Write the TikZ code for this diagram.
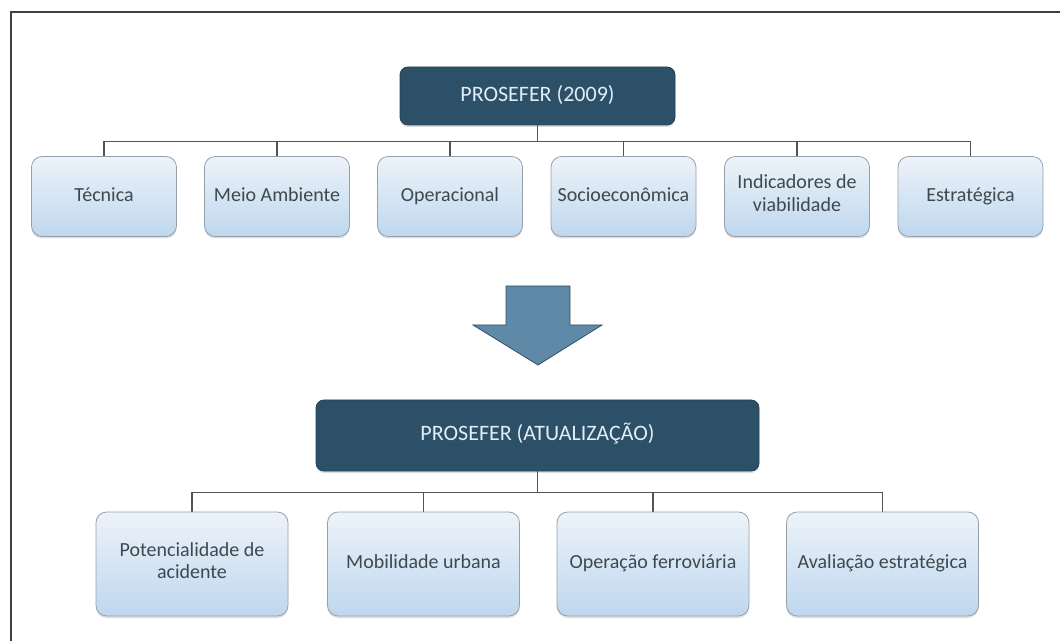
\documentclass[tikz,border=0pt]{standalone}
\usepackage{fontspec}
\setmainfont{Carlito}
\usepackage{tikz}
\usetikzlibrary{shadows}
\pgfdeclarelayer{bg}
\pgfsetlayers{bg,main}

\definecolor{rootfill}{HTML}{2D5069}
\definecolor{roottext}{HTML}{E2EDF5}
\definecolor{itemtop}{HTML}{EDF3F9}
\definecolor{itembot}{HTML}{BED7EE}
\definecolor{itemline}{HTML}{96A0AA}
\definecolor{itemtext}{HTML}{3F4851}
\definecolor{arrowfill}{HTML}{5E89A7}
\definecolor{linkgray}{HTML}{4F5459}

\begin{document}
\begin{tikzpicture}[x=0.75pt, y=-0.75pt,
    rootbox/.style={draw=rootfill!80!black, line width=0.6pt, fill=rootfill,
        rounded corners=6pt, text=roottext, font=\fontsize{16.5}{19}\selectfont,
        inner sep=0pt, execute at begin node=\strut,
        drop shadow={shadow xshift=0pt, shadow yshift=-1.5pt, opacity=0.25}},
    itembox/.style={draw=itemline, line width=0.6pt, top color=itemtop, bottom color=itembot,
        rounded corners=8pt, text=itemtext, font=\fontsize{15}{17}\selectfont,
        align=center, inner sep=0pt,
        execute at begin node=\strut, execute at end node=\strut,
        drop shadow={shadow xshift=0pt, shadow yshift=-1.5pt, opacity=0.25}},
    small/.style={itembox, minimum width=108.75pt, minimum height=60pt},
    large/.style={itembox, minimum width=144pt, minimum height=78pt},
    link/.style={draw=linkgray, line width=1.3pt}]
    \useasboundingbox (0,0) rectangle (1060,641);

    % frame
    \draw[line width=1.4pt, color=black!75] (1060,12) -- (11,12) -- (11,641);

    \node (p2009) [rootbox, minimum width=206.25pt, minimum height=43.5pt] at (537.5, 96) {PROSEFER (2009)};
    \node (tec) [small] at (104, 196.5) {Técnica};
    \node (meio) [small] at (277, 196.5) {Meio Ambiente};
    \node (oper) [small] at (450, 196.5) {Operacional};
    \node (socio) [small] at (623.5, 196.5) {Socioeconômica};
    \node (indic) [small] at (797, 196.5) {Indicadores de\\viabilidade};
    \node (estr) [small] at (970.5, 196.5) {Estratégica};

    % seta
    \draw[fill=arrowfill, draw=arrowfill!60!black, line width=0.6pt]
        (506,286) -- (570,286) -- (570,325) -- (602,325) -- (538,365)
        -- (473,325) -- (506,325) -- cycle;

    \node (patual) [rootbox, minimum width=332.25pt, minimum height=53.25pt] at (537.5, 435.5) {PROSEFER (ATUALIZAÇÃO)};
    \node (pot) [large] at (192, 564) {Potencialidade de\\acidente};
    \node (mob) [large] at (423.5, 564) {Mobilidade urbana};
    \node (ferro) [large] at (653, 564) {Operação ferroviária};
    \node (aval) [large] at (882.5, 564) {Avaliação estratégica};

    \begin{pgfonlayer}{bg}
        \draw[link] (p2009.south) -- ++(0,16) -| (tec.north);
        \draw[link] (p2009.south) -- ++(0,16) -| (meio.north);
        \draw[link] (p2009.south) -- ++(0,16) -| (oper.north);
        \draw[link] (p2009.south) -- ++(0,16) -| (socio.north);
        \draw[link] (p2009.south) -- ++(0,16) -| (indic.north);
        \draw[link] (p2009.south) -- ++(0,16) -| (estr.north);
        \draw[link] (patual.south) -- ++(0,21) -| (pot.north);
        \draw[link] (patual.south) -- ++(0,21) -| (mob.north);
        \draw[link] (patual.south) -- ++(0,21) -| (ferro.north);
        \draw[link] (patual.south) -- ++(0,21) -| (aval.north);
    \end{pgfonlayer}
\end{tikzpicture}
\end{document}
